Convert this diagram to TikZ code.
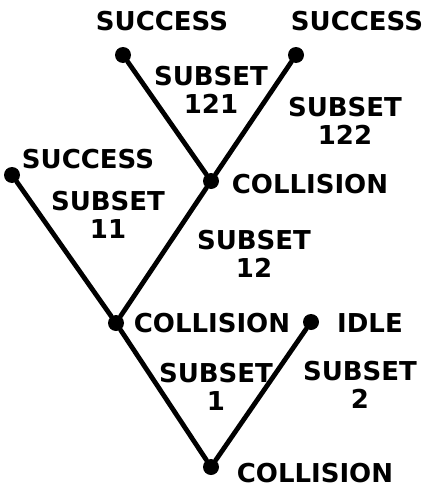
\documentclass[tikz,border=0pt]{standalone}
\usepackage{fontspec}
\newfontfamily\lettering{DejaVu Sans Bold}

\begin{document}
\begin{tikzpicture}[x=0.75pt,y=-0.75pt,line cap=round,line join=round]
\tikzset{dot/.style={circle,fill,inner sep=0pt,minimum size=12pt},
  edge/.style={line width=3.6pt},
  lbl/.style={font=\lettering\fontsize{19.5}{21.5}\selectfont,align=center,inner sep=0pt}}
\useasboundingbox (0,0) rectangle (429,489);
% tree points
\foreach \n/\x/\y in {root/211/467,c1/116/323,idle/311/322,c12/211/181,s11/12/175,s121/123/55,s122/296/55}{\node[dot] (\n) at (\x,\y) {};}
\foreach \a/\b in {root/c1,root/idle,c1/s11,c1/c12,c12/s121,c12/s122}{\draw[edge] (\a)--(\b);}
% outcome and subset labels
\foreach \n/\x/\y/\t in {tsucc121/162/21/SUCCESS,tsucc122/357/21/SUCCESS,tsucc11/88/159/SUCCESS,tcoll12/310/184/COLLISION,tcoll1/212/323/COLLISION,tidle/370/323/IDLE,tcoll/315/473/COLLISION,
  sub121/211/90/{SUBSET\\121},sub122/345/121/{SUBSET\\122},sub11/108/215/{SUBSET\\11},sub12/254/254/{SUBSET\\12},sub1/216/387/{SUBSET\\1},sub2/360/385/{SUBSET\\2}}{\node[lbl] (\n) at (\x,\y) {\t};}
\end{tikzpicture}
\end{document}
